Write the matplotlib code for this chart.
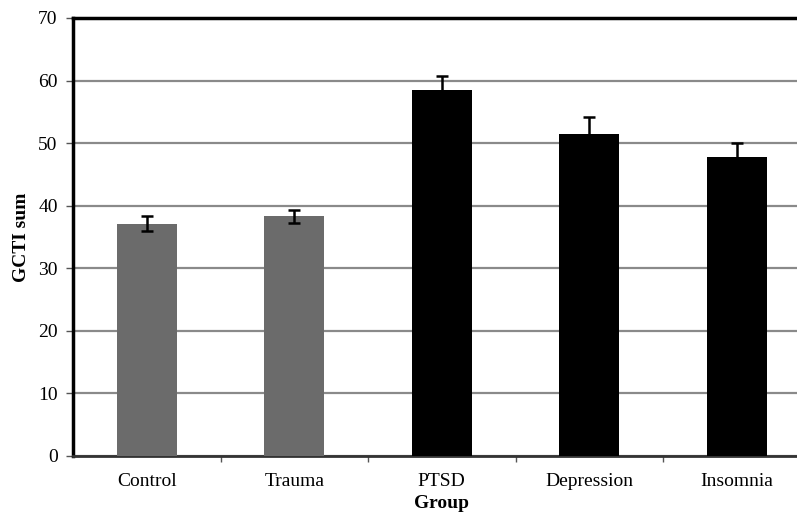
import matplotlib.pyplot as plt
import numpy as np

# data
groups = ['Control', 'Trauma', 'PTSD', 'Depression', 'Insomnia']
means = [37.1, 38.3, 58.5, 51.4, 47.8]
errors = [1.2, 1.0, 2.3, 2.8, 2.2]
colors = ['#6b6b6b', '#6b6b6b', '#000000', '#000000', '#000000']

plt.rcParams['font.family'] = ['Liberation Serif', 'DejaVu Serif']

fig = plt.figure(figsize=(7.97, 5.19), dpi=100)
ax = fig.add_axes([73/797, 1 - 456/519, (73 + 5*147.5)/797 - 73/797, (456 - 18)/519])

x = np.arange(len(groups))
ax.bar(x, means, width=0.41, color=colors, zorder=3)
ax.errorbar(x, means, yerr=errors, fmt='none', ecolor='black', elinewidth=1.8,
            capsize=4, capthick=1.8, zorder=4)

ax.set_xlim(-0.5, len(groups) - 0.5)
ax.set_ylim(0, 70)
ax.set_yticks(np.arange(0, 71, 10))
ax.yaxis.grid(True, color='#8a8a8a', linewidth=1.6, zorder=0)
ax.set_axisbelow(True)

ax.set_xticks(x)
ax.set_xticklabels(groups, fontsize=14)
ax.set_xticks(np.arange(0.5, len(groups) - 0.5, 1), minor=True)
ax.tick_params(axis='x', which='major', length=0, pad=12)
ax.tick_params(axis='x', which='minor', length=4, width=1, color='#555555')
ax.tick_params(axis='y', labelsize=14, length=5, width=1, color='#555555', pad=6)

for s in ['top', 'left']:
    ax.spines[s].set_linewidth(2.5)
    ax.spines[s].set_color('black')
ax.spines['bottom'].set_linewidth(2)
ax.spines['bottom'].set_color('#333333')
ax.spines['right'].set_visible(False)

ax.set_ylabel('GCTI sum', fontsize=14, fontweight='bold', labelpad=6)
ax.set_xlabel('Group', fontsize=14, fontweight='bold', labelpad=4)

fig.savefig('out.png', dpi=100)
